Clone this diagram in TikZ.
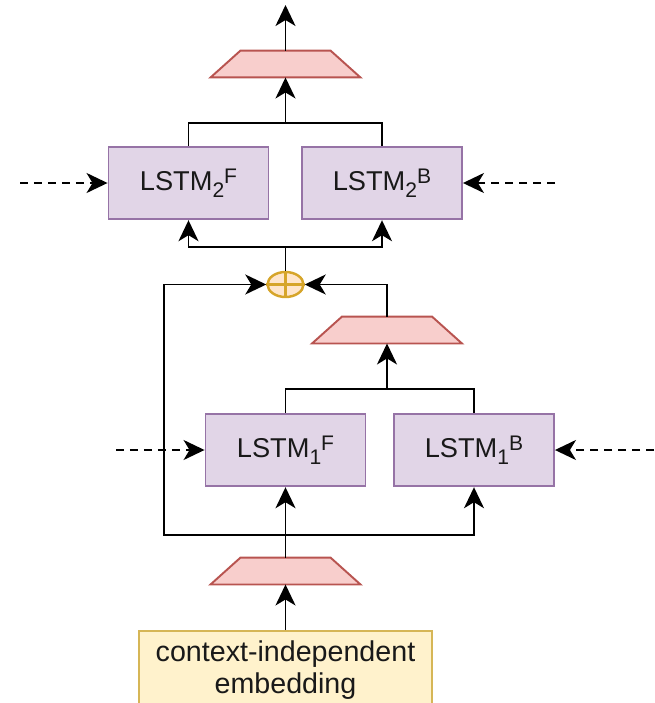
\documentclass[tikz,border=0pt]{standalone}
\usepackage{fontspec}
\setmainfont{Liberation Sans}
\usetikzlibrary{shapes.geometric,arrows.meta}
\definecolor{lstmfill}{HTML}{E1D5E7}
\definecolor{lstmline}{HTML}{9673A6}
\definecolor{trapfill}{HTML}{F8CECC}
\definecolor{trapline}{HTML}{B85450}
\definecolor{embfill}{HTML}{FFF2CC}
\definecolor{embline}{HTML}{D6B656}
\definecolor{sumfill}{HTML}{FFE6CC}
\definecolor{sumline}{HTML}{D6A52A}
\newcommand{\lstm}[2]{LSTM\raisebox{-4pt}{\fontsize{12}{12}\selectfont #1}\raisebox{4pt}{\fontsize{12}{12}\selectfont #2}}

\begin{document}
\begin{tikzpicture}
[x=0.02cm,y=-0.02cm,line width=1.1pt,>={Stealth[length=0.42cm,width=0.4cm,inset=0.12cm]},
 every node/.style={font=\fontsize{15.5}{18}\selectfont,text=black!90},
 cell/.style={rectangle,draw=lstmline,fill=lstmfill,minimum width=3.2cm,minimum height=1.45cm,inner sep=0pt},
 proj/.style={rectangle,minimum width=2.96cm,minimum height=0.5cm,inner sep=0pt},
 sumnode/.style={ellipse,draw=sumline,fill=sumfill,line width=1.4pt,minimum width=0.72cm,minimum height=0.5cm,inner sep=0pt},
 embbox/.style={rectangle,draw=embline,fill=embfill,minimum width=5.86cm,minimum height=1.56cm,align=center,inner sep=0pt,font=\fontsize{16.3}{19}\selectfont}]
\useasboundingbox (0,0) rectangle (654,703);

% blocks
\node[embbox] (emb) at (285.5,670) {context-independent\\[-1pt]embedding};
\node[proj] (proj0) at (285.5,571) {};
\node[cell] (l1f) at (285.5,450) {\lstm{1}{F}};
\node[cell] (l1b) at (474,450) {\lstm{1}{B}};
\node[proj] (proj1) at (387,330) {};
\node[sumnode] (sum) at (285.5,284.5) {};
\node[cell] (l2f) at (188.5,183) {\lstm{2}{F}};
\node[cell] (l2b) at (382,183) {\lstm{2}{B}};
\node[proj] (proj2) at (285.5,64) {};
\draw[sumline,line width=1.2pt] (sum.north) -- (sum.south) (sum.west) -- (sum.east);
\foreach \t in {proj0,proj1,proj2}
\draw[trapline,fill=trapfill] (\t.south west) -- ([xshift=0.6cm]\t.north west) -- ([xshift=-0.6cm]\t.north east) -- (\t.south east) -- cycle;

\coordinate (out) at (285.5,5);
\coordinate (top) at (285.5,123);
\coordinate (mid) at (285.5,247);
\coordinate (low) at (387,389);
\coordinate (split) at (285.5,535);
\coordinate (loop) at (164,535);
\coordinate (in2f) at (20,183);
\coordinate (in2b) at (555,183);
\coordinate (in1f) at (116,450);
\coordinate (in1b) at (654,450);

% connections
\foreach \from/\to in {emb.north/proj0.south,proj0.north/l1f.south,low/proj1.south,top/proj2.south,proj2.north/out}
\draw[->] (\from) -- (\to);
\draw (l1f.north) |- (low) -| (l1b.north);
\draw[->] (split) -| (l1b.south);
\draw[->] (split) -- (loop) |- (sum.west);
\draw[->] (proj1.north) |- (sum.east);
\draw (sum.north) -- (mid);
\foreach \to in {l2f,l2b}
\draw[->] (mid) -| (\to.south);
\draw (l2f.north) |- (top) -| (l2b.north);

% recurrent inputs
\foreach \from/\to in {in2f/l2f.west,in2b/l2b.east,in1f/l1f.west,in1b/l1b.east}
\draw[->,dash pattern=on 0.16cm off 0.12cm] (\from) -- (\to);

\end{tikzpicture}
\end{document}
